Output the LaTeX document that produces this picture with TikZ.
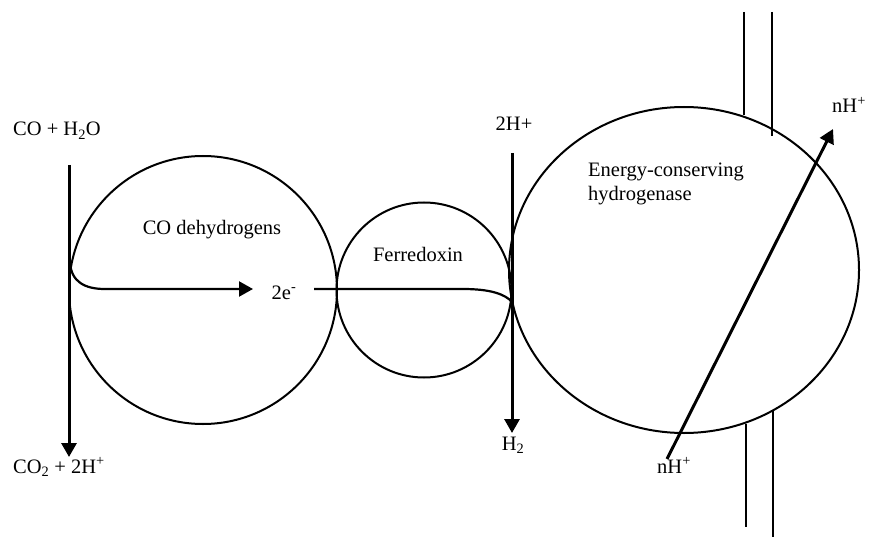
\documentclass[tikz,border=0pt]{standalone}
\usepackage{fontspec}
\setmainfont{Liberation Serif}
\usetikzlibrary{arrows.meta,shapes.geometric}

\begin{document}
\begin{tikzpicture}[x=1pt, y=-1pt,
    blob/.style={draw, line width=2pt, inner sep=0pt},
    lbl/.style={inner sep=0pt, font=\fontsize{20.5}{24}\selectfont},
    arr/.style={-{Triangle[length=14pt, width=15pt]}, line width=3pt},
    earr/.style={-{Triangle[length=14pt, width=15pt]}, line width=2.2pt},
    eline/.style={line width=2.2pt},
    memb/.style={line width=2pt}]
  \useasboundingbox (0,0) rectangle (869,537);
  % complexes
  \node[blob, circle, minimum size=268pt] (codh) at (203,290) {};
  \node[blob, circle, minimum size=175pt] (fd) at (424,290) {};
  \node[blob, ellipse, minimum width=350pt, minimum height=326pt] (ech) at (684,270) {};
  % membrane
  \draw[memb] (744,12) -- (744,115);
  \draw[memb] (772,12) -- (772,136);
  \draw[memb] (746,424) -- (746,527);
  \draw[memb] (773,410) -- (773,537);
  % labels
  \node[lbl, anchor=base west] (coin) at (13,136) {CO + H\textsubscript{2}O};
  \node[lbl, anchor=base west] (coout) at (13,473) {CO\textsubscript{2} + 2H\textsuperscript{+}};
  \node[lbl, anchor=base] (codhlbl) at (212,235) {CO dehydrogens};
  \node[lbl, anchor=base] (fdlbl) at (418,261) {Ferredoxin};
  \node[lbl, anchor=base west, align=left] (echlbl) at (588,201) {Energy-conserving\\hydrogenase};
  \node[lbl, anchor=base] (elbl) at (284,299) {2e\textsuperscript{-}};
  \node[lbl, anchor=base] (hin) at (514,131) {2H+};
  \node[lbl, anchor=base] (hout) at (513,450) {H\textsubscript{2}};
  \node[lbl, anchor=base west] (nhout) at (832,113) {nH\textsuperscript{+}};
  \node[lbl, anchor=base west] (nhin) at (657,473) {nH\textsuperscript{+}};
  % connector ends
  \coordinate (cotop) at (69,165);
  \coordinate (cobot) at (69,457);
  \coordinate (estart) at (70,262);
  \coordinate (eturn) at (105,289);
  \coordinate (etip) at (253,289);
  \coordinate (fdstart) at (314,289);
  \coordinate (fdbend) at (463,289);
  \coordinate (fdend) at (512,302);
  \coordinate (htop) at (512,153);
  \coordinate (hbot) at (512,433);
  \coordinate (pin) at (667,459);
  \coordinate (pout) at (833,129);
  % arrows
  \draw[arr] (cotop) -- (cobot);
  \draw[earr] (estart) .. controls (71,282) and (85,289) .. (eturn) -- (etip);
  \draw[eline] (fdstart) -- (fdbend) .. controls (490,289) and (505,294) .. (fdend);
  \draw[arr] (htop) -- (hbot);
  \draw[arr] (pin) -- (pout);
\end{tikzpicture}
\end{document}
